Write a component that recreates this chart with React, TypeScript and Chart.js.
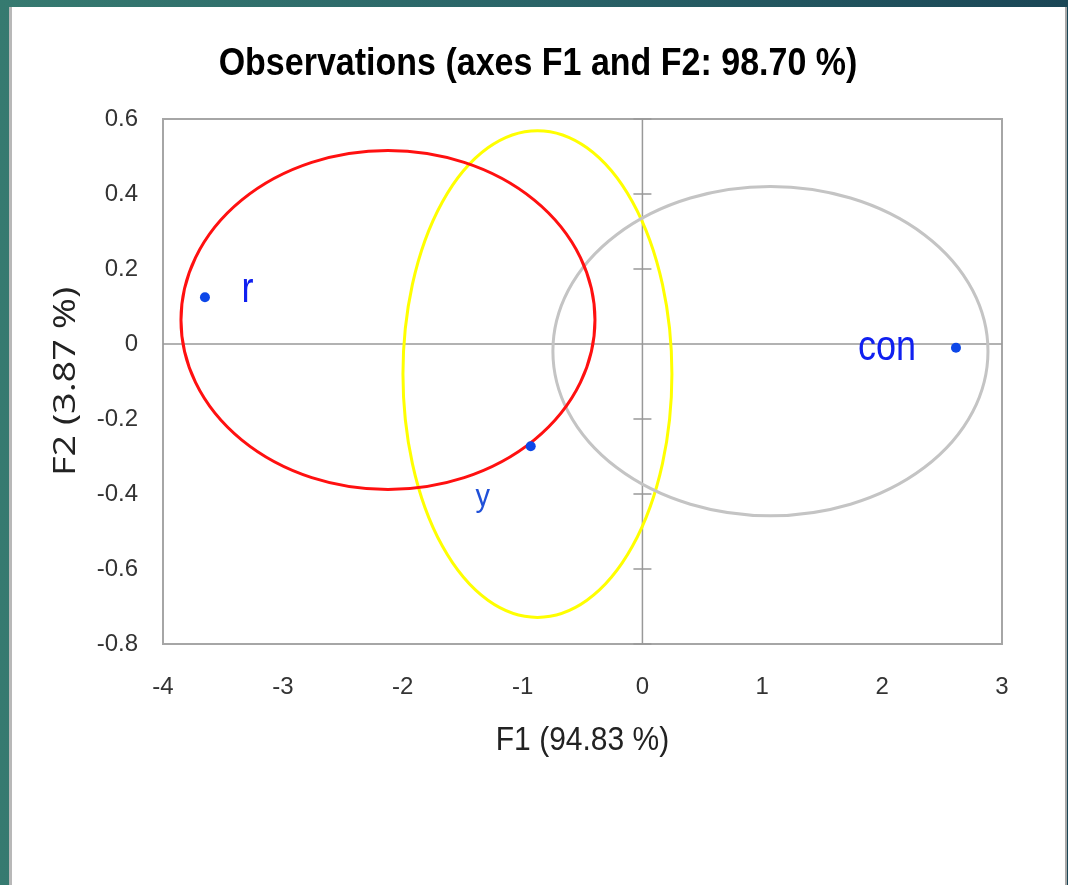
import React, { useEffect, useRef } from "react";
import { Chart, registerables } from "chart.js";

Chart.register(...registerables);

// ---- data ----
const obsNames = ["r", "y", "con"];
const obsF1 = [-3.65, -0.932, 2.616];
const obsF2 = [0.1245, -0.2725, -0.0099];

const ellipseCenterF1 = [-0.876, 1.068, -2.123];
const ellipseCenterF2 = [-0.08, -0.019, 0.064];
const ellipseRadiusF1 = [1.122, 1.815, 1.727];
const ellipseRadiusF2 = [0.649, 0.439, 0.452];
const ellipseColors = ["#ffff00", "#c4c4c4", "#ff1010"];

const xTickValues = [-4, -3, -2, -1, 0, 1, 2, 3];
const yTickValues = [-0.8, -0.6, -0.4, -0.2, 0, 0.2, 0.4, 0.6];

const chartTitle = "Observations (axes F1 and F2: 98.70 %)";
const xTitle = "F1 (94.83 %)";
const yTitle = "F2 (3.87 %)";

// ---- styles ----
const labelStyles = [
  { dx: 42.5, dy: 5, size: 36, sy: 1.2, color: "#1020f0" },
  { dx: -48, dy: 60, size: 29, sy: 1.05, color: "#2050d8" },
  { dx: -69, dy: 12, size: 36, sy: 1.2, color: "#1020f0" },
];
const NARROW = "'Liberation Sans Narrow', 'Arial Narrow', 'Liberation Sans', Arial, sans-serif";
const SANS = "'Liberation Sans', Arial, sans-serif";

function drawText(
  ctx: CanvasRenderingContext2D,
  text: string,
  x: number,
  y: number,
  font: string,
  color: string,
  sx = 1,
  sy = 1,
  rot = 0
) {
  ctx.save();
  ctx.translate(x, y);
  if (rot) ctx.rotate(rot);
  ctx.scale(sx, sy);
  ctx.font = font;
  ctx.fillStyle = color;
  ctx.textAlign = "center";
  ctx.textBaseline = "alphabetic";
  ctx.fillText(text, 0, 0);
  ctx.restore();
}

const decorPlugin = {
  id: "decor",
  beforeDatasetsDraw(chart: any) {
    const { ctx, chartArea: a, scales } = chart;
    const xs = scales.x;
    const ys = scales.y;
    ctx.save();
    // frame
    ctx.strokeStyle = "#a6a6a6";
    ctx.lineWidth = 2;
    ctx.strokeRect(a.left, a.top, a.right - a.left, a.bottom - a.top);
    // zero lines
    const x0 = xs.getPixelForValue(0);
    const y0 = ys.getPixelForValue(0);
    ctx.lineWidth = 1.5;
    ctx.strokeStyle = "#999999";
    ctx.beginPath();
    ctx.moveTo(a.left, y0);
    ctx.lineTo(a.right, y0);
    ctx.moveTo(x0, a.top);
    ctx.lineTo(x0, a.bottom);
    ys.ticks.forEach((t: any) => {
      const py = ys.getPixelForValue(t.value);
      ctx.moveTo(x0 - 9, py);
      ctx.lineTo(x0 + 9, py);
    });
    ctx.stroke();
    // ellipses
    ellipseCenterF1.forEach((cx, i) => {
      const px = xs.getPixelForValue(cx);
      const py = ys.getPixelForValue(ellipseCenterF2[i]);
      const rx = Math.abs(xs.getPixelForValue(cx + ellipseRadiusF1[i]) - px);
      const ry = Math.abs(ys.getPixelForValue(ellipseCenterF2[i] + ellipseRadiusF2[i]) - py);
      ctx.beginPath();
      ctx.ellipse(px, py, rx, ry, 0, 0, Math.PI * 2);
      ctx.strokeStyle = ellipseColors[i];
      ctx.lineWidth = 3;
      ctx.stroke();
    });
    ctx.restore();
  },
  afterDatasetsDraw(chart: any) {
    const { ctx } = chart;
    const meta = chart.getDatasetMeta(0);
    meta.data.forEach((pt: any, i: number) => {
      const s = labelStyles[i];
      drawText(ctx, obsNames[i], pt.x + s.dx, pt.y + s.dy, `${s.size}px ${NARROW}`, s.color, 1, s.sy);
    });
  },
  afterDraw(chart: any) {
    const { ctx, chartArea: a } = chart;
    drawText(ctx, chartTitle, 538, 75, `bold 34px ${SANS}`, "#000000", 1.0, 1.12);
    drawText(ctx, xTitle, (a.left + a.right) / 2, 750, `30px ${SANS}`, "#222222", 1, 1.12);
    drawText(ctx, yTitle, 75, (a.top + a.bottom) / 2, `31px 'Open Sans', 'Noto Sans', sans-serif`, "#222222", 1.22, 1, -Math.PI / 2);
  },
};

export default function App() {
  const ref = useRef<HTMLCanvasElement | null>(null);
  useEffect(() => {
    if (!ref.current) return;
    const tickFont = { family: NARROW, size: 24 };
    const chart = new Chart(ref.current, {
      type: "scatter",
      data: {
        datasets: [
          {
            data: obsF1.map((x, i) => ({ x, y: obsF2[i] })),
            pointRadius: 5,
            pointBackgroundColor: "#0d47e8",
            pointBorderWidth: 0,
            showLine: false,
          },
        ],
      },
      options: {
        animation: false,
        responsive: false,
        events: [],
        layout: { padding: { top: 119, right: 66, bottom: 0, left: 0 } },
        plugins: {
          legend: { display: false },
          title: { display: false },
          tooltip: { enabled: false },
        },
        scales: {
          x: {
            type: "linear",
            min: -4,
            max: 3,
            afterBuildTicks: (s: any) => {
              s.ticks = xTickValues.map((v) => ({ value: v }));
            },
            afterFit: (s: any) => {
              s.height = 241;
            },
            grid: { display: false, drawTicks: false },
            border: { display: false },
            ticks: {
              padding: 29,
              font: tickFont,
              color: "#333333",
              autoSkip: false,
              maxRotation: 0,
              callback: (v: any) => String(v),
            },
          },
          y: {
            type: "linear",
            min: -0.8,
            max: 0.6,
            afterBuildTicks: (s: any) => {
              s.ticks = yTickValues.map((v) => ({ value: v }));
            },
            afterFit: (s: any) => {
              s.width = 163;
            },
            grid: { display: false, drawTicks: false },
            border: { display: false },
            ticks: {
              padding: 25,
              font: tickFont,
              color: "#333333",
              autoSkip: false,
              callback: (v: any) => String(Math.round(Number(v) * 10) / 10),
            },
          },
        },
      },
      plugins: [decorPlugin],
    } as any);
    return () => chart.destroy();
  }, []);

  return (
    <div
      style={{
        position: "fixed",
        left: 0,
        top: 0,
        width: 1068,
        height: 885,
        background: "linear-gradient(to right, #367a70 0%, #2a6468 50%, #1a4656 100%)",
        overflow: "hidden",
      }}
    >
      <div
        style={{
          position: "absolute",
          left: 9,
          top: 7,
          width: 1058,
          height: 878,
          background: "#ffffff",
          borderLeft: "3px solid #b8b8b8",
          borderRight: "2px solid #a8a8a8",
          boxSizing: "border-box",
        }}
      />
      <canvas
        ref={ref}
        width={1068}
        height={885}
        style={{ position: "absolute", left: 0, top: 0, width: 1068, height: 885 }}
      />
    </div>
  );
}
